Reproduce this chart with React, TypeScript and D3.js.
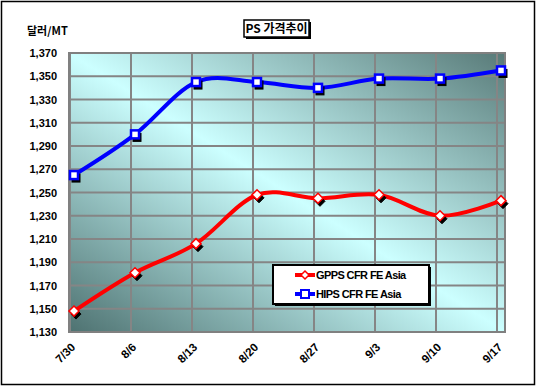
import React from "react";
import * as d3 from "d3";

const categories = ["7/30", "8/6", "8/13", "8/20", "8/27", "9/3", "9/10", "9/17"];
const gppsValues = [1148, 1181, 1206, 1248, 1245, 1248, 1230, 1243];
const hipsValues = [1265, 1300, 1345, 1345, 1340, 1348, 1348, 1355];
const yTicks = [1130, 1150, 1170, 1190, 1210, 1230, 1250, 1270, 1290, 1310, 1330, 1350, 1370];

const W = 538;
const H = 388;
const plot = { left: 69, right: 505, top: 53, bottom: 332 };
const font = "'Liberation Sans', Arial, sans-serif";

const App = () => {
    const svgRef = React.useRef<SVGSVGElement>(null);

    React.useEffect(() => {
        const svgEl = d3.select(svgRef.current);
        svgEl.selectAll("*").remove();

        const x = d3.scalePoint<string>().domain(categories).range([plot.left + 1, 497]);
        const y = d3.scaleLinear().domain([1130, 1370]).range([plot.bottom, plot.top]);
        const mx = 4; // markers sit a little right of the gridlines

        svgEl.append("rect").attr("width", W).attr("height", H).attr("fill", "white");
        svgEl.append("rect").attr("x", 1.5).attr("y", 1.5).attr("width", 533).attr("height", 383)
            .attr("fill", "none").attr("stroke", "black").attr("stroke-width", 1.5);

        const defs = svgEl.append("defs");
        const grad = defs.append("linearGradient").attr("id", "bg")
            .attr("x1", 0).attr("y1", 1).attr("x2", 1).attr("y2", 0);
        grad.append("stop").attr("offset", 0).attr("stop-color", "#4e7271");
        grad.append("stop").attr("offset", 0.5).attr("stop-color", "#ccffff");
        grad.append("stop").attr("offset", 1).attr("stop-color", "#587a78");

        svgEl.append("rect")
            .attr("x", plot.left).attr("y", plot.top)
            .attr("width", plot.right - plot.left).attr("height", plot.bottom - plot.top)
            .attr("fill", "url(#bg)");

        // grid
        const grid = svgEl.append("g").attr("stroke", "#858585").attr("stroke-width", 2);
        grid.selectAll(".h").data(yTicks).enter().append("line")
            .attr("x1", plot.left).attr("x2", plot.right)
            .attr("y1", (d) => y(d)).attr("y2", (d) => y(d));
        grid.selectAll(".v").data(categories).enter().append("line")
            .attr("x1", (d) => x(d)!).attr("x2", (d) => x(d)!)
            .attr("y1", plot.top).attr("y2", plot.bottom);
        svgEl.append("rect")
            .attr("x", plot.left).attr("y", plot.top)
            .attr("width", plot.right - plot.left).attr("height", plot.bottom - plot.top)
            .attr("fill", "none").attr("stroke", "#808080").attr("stroke-width", 2);

        // y tick labels
        svgEl.append("g").selectAll("text").data(yTicks).enter().append("text")
            .attr("x", 57).attr("y", (d) => y(d) + 4)
            .attr("text-anchor", "end").attr("font-family", font).attr("font-weight", "bold")
            .attr("font-size", 11).text((d) => d3.format(",")(d));

        // x tick labels
        svgEl.append("g").selectAll("text").data(categories).enter().append("text")
            .attr("transform", (d) => `translate(${x(d)! + 6},${348}) rotate(-45)`)
            .attr("text-anchor", "end").attr("font-family", font).attr("font-weight", "bold")
            .attr("font-size", 11.5).text((d) => d);

        const line = d3.line<number>()
            .x((_, i) => x(categories[i])! + mx)
            .y((d) => y(d))
            .curve(d3.curveCatmullRom.alpha(0));

        const series = [
            { name: "GPPS CFR FE Asia", color: "#ff0000", values: gppsValues, shape: "diamond" },
            { name: "HIPS CFR FE Asia", color: "#0000ff", values: hipsValues, shape: "square" },
        ];

        const marker = (g: any, shape: string, cx: number, cy: number, fill: string, stroke: string, sw: number) => {
            if (shape === "diamond") {
                g.append("path").attr("d", `M${cx},${cy - 5}L${cx + 5},${cy}L${cx},${cy + 5}L${cx - 5},${cy}Z`)
                    .attr("fill", fill).attr("stroke", stroke).attr("stroke-width", sw);
            } else {
                g.append("rect").attr("x", cx - 4).attr("y", cy - 4).attr("width", 8).attr("height", 8)
                    .attr("fill", fill).attr("stroke", stroke).attr("stroke-width", sw);
            }
        };

        series.forEach((s) => {
            svgEl.append("path").attr("d", line(s.values)!)
                .attr("fill", "none").attr("stroke", s.color).attr("stroke-width", 4)
                .attr("stroke-linejoin", "round");
            const g = svgEl.append("g");
            s.values.forEach((v, i) => {
                const cx = x(categories[i])! + mx;
                const cy = y(v);
                marker(g, s.shape, cx + 2, cy + 3, "black", "black", 1);
                marker(g, s.shape, cx, cy, "white", s.color, s.shape === "square" ? 2.5 : 1.5);
            });
        });

        // legend
        const lg = svgEl.append("g");
        lg.append("rect").attr("x", 275).attr("y", 267).attr("width", 156).attr("height", 39).attr("fill", "black");
        lg.append("rect").attr("x", 273).attr("y", 265).attr("width", 156).attr("height", 39)
            .attr("fill", "white").attr("stroke", "black").attr("stroke-width", 2);
        series.forEach((s, i) => {
            const ly = 275 + i * 19;
            lg.append("line").attr("x1", 295).attr("x2", 315).attr("y1", ly).attr("y2", ly)
                .attr("stroke", s.color).attr("stroke-width", 4);
            if (s.shape === "diamond") {
                lg.append("path").attr("d", `M305,${ly - 4}L309,${ly}L305,${ly + 4}L301,${ly}Z`)
                    .attr("fill", "white").attr("stroke", s.color).attr("stroke-width", 1.5);
            } else {
                lg.append("rect").attr("x", 301).attr("y", ly - 4).attr("width", 8).attr("height", 8)
                    .attr("fill", "white").attr("stroke", s.color).attr("stroke-width", 2);
            }
            lg.append("text").attr("x", 316).attr("y", ly + 4)
                .attr("font-family", font).attr("font-weight", "bold").attr("font-size", 11)
                .attr("letter-spacing", -0.6).text(s.name);
        });

        // title
        svgEl.append("rect").attr("x", 246).attr("y", 22).attr("width", 65).attr("height", 17).attr("fill", "black");
        svgEl.append("rect").attr("x", 244).attr("y", 20).attr("width", 65).attr("height", 17)
            .attr("fill", "white").attr("stroke", "black").attr("stroke-width", 1.5);
        svgEl.append("text").attr("x", 276.5).attr("y", 33).attr("text-anchor", "middle")
            .attr("font-family", "'Noto Sans CJK KR', sans-serif").attr("font-weight", "bold").attr("font-size", 12)
            .text("PS 가격추이");

        // y unit
        svgEl.append("text").attr("x", 27).attr("y", 35)
            .attr("font-family", "'Noto Sans CJK KR', sans-serif").attr("font-weight", "bold")
            .attr("font-size", 11).text("달러/MT");
    }, []);

    return (
        <div style={{ position: "absolute", left: 0, top: 0 }}>
            <svg ref={svgRef} width={W} height={H} viewBox={`0 0 ${W} ${H}`} style={{ display: "block" }} />
        </div>
    );
};

export default App;
